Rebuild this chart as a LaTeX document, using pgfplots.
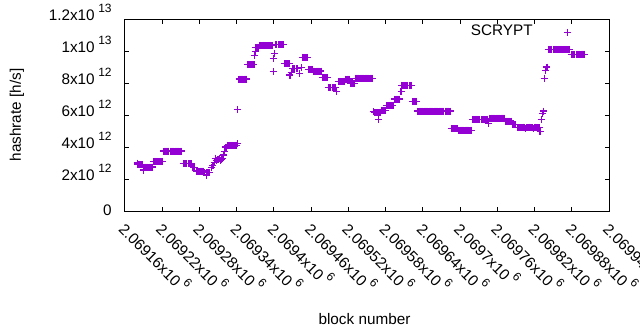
\documentclass[border=0pt]{standalone}
\usepackage{fontspec}
\setmainfont{Liberation Sans}
\usepackage{pgfplots}
\pgfplotsset{compat=1.18}
\definecolor{gpviolet}{RGB}{148,0,211}
\newcommand\sci[2]{#1x10\hspace{3.5bp}\raisebox{0.52em}{\fontsize{12bp}{12bp}\selectfont #2}}
\begin{document}
\begin{tikzpicture}[font=\fontsize{15.3bp}{18bp}\selectfont]
\begin{axis}[
  scale only axis,
  width=484.2bp, height=192bp,
  xmin=160, xmax=940, ymin=0, ymax=12,
  xtick={160,220,280,340,400,460,520,580,640,700,760,820,880,940},
  xticklabels={\sci{2.06916}{6},\sci{2.06922}{6},\sci{2.06928}{6},\sci{2.06934}{6},\sci{2.0694}{6},\sci{2.06946}{6},\sci{2.06952}{6},\sci{2.06958}{6},\sci{2.06964}{6},\sci{2.0697}{6},\sci{2.06976}{6},\sci{2.06982}{6},\sci{2.06988}{6},\sci{2.06994}{6}},
  ytick={0,2,4,6,8,10,12},
  yticklabels={\raisebox{-3.5bp}{0},\sci{2}{12},\sci{4}{12},\sci{6}{12},\sci{8}{12},\sci{1}{13},\sci{1.2}{13}},
  xticklabel style={xshift=4.7bp, yshift=-7.7bp, rotate=-45, anchor=north west, inner sep=0pt},
  yticklabel style={anchor=base east, inner sep=0pt, xshift=-13bp, yshift=-1bp},
  tick align=inside,
  major tick length=4.5bp,
  tick style={black, line width=0.8bp},
  axis line style={black, line width=0.8bp},
  xlabel={block number},
  ylabel={hashrate [h/s]},
  xlabel style={at={(axis description cs:0.495,-0.5625)}, anchor=center},
  ylabel style={at={(axis description cs:-0.223,0.5)}, anchor=center, rotate=0},
  legend plot pos=right,
  legend style={draw=none, fill=none, inner sep=0pt, nodes={inner sep=0pt},
    column sep=0pt, at={(rel axis cs:0.7144,0.9385)}, anchor=west},
  legend image code/.code={\path (0bp,0bp) (40bp,0bp); \draw[#1] plot coordinates {(35bp,-1.5bp)};},
]
% x = block number - 2069000, y = hashrate in units of 1e12 h/s
\addplot[only marks, mark=+, color=gpviolet, mark size=3.5bp, mark options={line width=1.2bp}] coordinates {
(180,3.0)
(181,2.9)(183,2.9)(185,2.9)(187,2.9)(189,2.9)
(190,2.56)
(191,2.75)(193,2.75)(195,2.75)(197,2.75)(199,2.75)(201,2.75)(203,2.75)(205,2.75)
(207,3.1)(209,3.1)(211,3.1)(213,3.1)(215,3.1)(217,3.1)(219,3.1)(221,3.1)
(223,3.75)(225,3.75)(227,3.75)(229,3.75)(231,3.75)(233,3.75)(235,3.75)(237,3.75)(239,3.75)(241,3.75)(243,3.75)(245,3.75)(247,3.75)(249,3.75)(251,3.75)
(254,2.95)(256,2.95)(258,2.95)(260,2.95)(262,2.95)(264,2.95)(266,2.95)(268,2.95)
(270,2.7)(272,2.7)
(275,2.5)(277,2.5)(279,2.5)(281,2.5)(283,2.5)(285,2.5)(287,2.5)
(289,2.4)(291,2.4)(293,2.4)(295,2.4)(297,2.4)
(292,2.25)
(300,2.7)(302,2.85)(304,3.05)(306,3.3)
(308,3.15)(310,3.2)(312,3.3)(314,3.15)(316,3.2)(318,3.3)
(319,3.5)(321,3.7)(323,4.0)
(326,4.1)(328,4.1)(330,4.1)(332,4.1)(334,4.1)(336,4.1)(338,4.1)(340,4.1)
(341,4.2)
(342,6.35)
(344,8.25)(346,8.25)(348,8.25)(350,8.25)(352,8.25)(354,8.25)(356,8.25)
(358,9.15)(360,9.15)(362,9.15)(364,9.15)(366,9.15)(368,9.15)
(369,9.7)(370,9.95)
(371,10.2)(373,10.2)(375,10.2)
(377,10.35)(379,10.35)(381,10.35)(383,10.35)(385,10.35)(387,10.35)(389,10.35)(391,10.35)(393,10.35)(395,10.35)(397,10.35)
(399,8.7)(400,9.55)(401,9.85)
(403,10.4)(405,10.4)(407,10.4)(409,10.4)(411,10.4)(413,10.4)(415,10.4)
(417,9.2)(419,9.2)(421,9.2)(423,9.2)(425,9.2)
(426,8.5)(428,8.65)
(430,8.9)(432,8.9)(434,8.9)(436,8.9)(438,8.9)
(442,8.6)(445,8.95)
(446,9.6)(448,9.6)(450,9.6)(452,9.6)(454,9.6)
(456,8.85)(458,8.85)(460,8.85)(462,8.85)
(464,8.75)(466,8.75)(468,8.75)(470,8.75)(472,8.75)(474,8.75)(476,8.75)
(478,8.35)(480,8.35)(482,8.35)(484,8.35)(486,8.35)
(488,7.7)(490,7.7)(492,7.7)(494,7.7)(496,7.7)(498,7.7)(500,7.7)
(501,7.45)
(504,8.1)(506,8.1)(508,8.1)(510,8.1)(512,8.1)(514,8.1)
(516,8.25)(518,8.25)(520,8.25)(522,8.25)
(524,7.95)(526,7.95)(528,7.95)(530,7.95)
(531,8.3)(533,8.3)(535,8.3)(537,8.3)(539,8.3)(541,8.3)(543,8.3)(545,8.3)(547,8.3)(549,8.3)(551,8.3)(553,8.3)(555,8.3)(557,8.3)(559,8.3)
(560,6.2)
(562,6.15)(564,6.15)(566,6.15)(568,6.15)(570,6.15)(572,6.15)
(569,5.7)
(574,6.3)(576,6.3)(578,6.3)(580,6.3)
(582,6.6)(584,6.6)(586,6.6)(588,6.6)(590,6.6)(592,6.6)
(595,7.0)(597,7.0)(599,7.0)(601,7.0)(603,7.0)
(605,7.45)
(606,7.85)(608,7.85)(610,7.85)(612,7.85)(614,7.85)(616,7.85)(618,7.85)(620,7.85)(622,7.85)
(624,6.85)(626,6.85)(628,6.85)(630,6.85)
(632,6.25)(634,6.25)(636,6.25)(638,6.25)(640,6.25)(642,6.25)(644,6.25)(646,6.25)(648,6.25)(650,6.25)(652,6.25)(654,6.25)(656,6.25)(658,6.25)(660,6.25)(662,6.25)(664,6.25)(666,6.25)(668,6.25)(670,6.25)(672,6.25)(674,6.25)(676,6.25)(678,6.25)(680,6.25)(682,6.25)(684,6.25)
(686,5.15)(688,5.15)(690,5.15)(692,5.15)(694,5.15)(696,5.15)
(698,5.05)(700,5.05)(702,5.05)(704,5.05)(706,5.05)(708,5.05)(710,5.05)(712,5.05)(714,5.05)(716,5.05)(718,5.05)
(720,5.72)(722,5.72)(724,5.72)(726,5.72)(728,5.72)(730,5.72)(732,5.72)(734,5.72)(736,5.72)(738,5.72)(740,5.72)(742,5.72)(744,5.72)
(746,5.45)
(748,5.8)(750,5.8)(752,5.8)(754,5.8)(756,5.8)(758,5.8)(760,5.8)(762,5.8)(764,5.8)(766,5.8)(768,5.8)(770,5.8)(772,5.8)
(774,5.62)(776,5.62)(778,5.62)(780,5.62)(782,5.62)
(784,5.4)(786,5.4)(788,5.4)(790,5.4)
(792,5.2)(794,5.2)(796,5.2)(798,5.2)(800,5.2)(802,5.25)(804,5.2)(806,5.15)(808,5.2)(810,5.2)(812,5.25)(814,5.2)(816,5.2)(818,5.15)(820,5.2)(822,5.25)(824,5.2)(826,5.2)(828,5.2)
(829,4.95)
(831,5.7)(833,6.1)(835,6.25)
(836,8.3)(838,8.8)(840,9.0)
(842,10.1)(844,10.1)(846,10.1)(848,10.1)(850,10.1)(852,10.1)(854,10.1)(856,10.1)(858,10.1)(860,10.1)(862,10.1)(864,10.1)(866,10.1)(868,10.1)(870,10.1)(872,10.1)(874,10.1)(876,10.1)
(879,9.8)(881,9.8)(883,9.8)(885,9.8)(887,9.8)(889,9.8)(891,9.8)(893,9.8)(895,9.8)(897,9.8)(899,9.8)(901,9.8)
};
\addlegendentry{SCRYPT}
\end{axis}
\pgfresetboundingbox
\path (-124.8bp,-119bp) rectangle (515.2bp,211bp);
\end{tikzpicture}
\end{document}
